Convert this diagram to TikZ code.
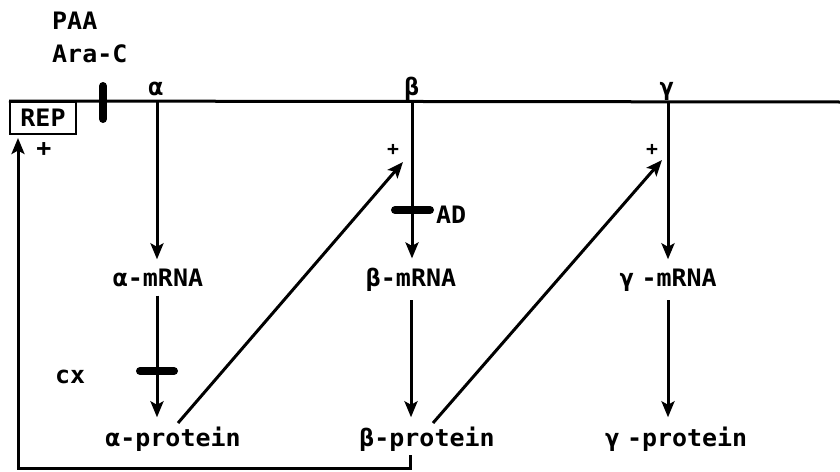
\documentclass[tikz,border=0pt]{standalone}
\usepackage{fontspec}
\usetikzlibrary{arrows.meta}
\newfontfamily\plotfont[FakeStretch=1.04]{DejaVu Sans Mono}
\begin{document}
\begin{tikzpicture}[x=1pt,y=-1pt,
  lbl/.style={font=\plotfont\bfseries\fontsize{24}{28}\selectfont, inner sep=0pt},
  plus/.style={font=\plotfont\bfseries\fontsize{19}{22}\selectfont, inner sep=0pt},
  prod/.style={lbl, inner xsep=0pt, inner ysep=9pt},
  repbox/.style={lbl, draw, line width=2pt, minimum width=66pt, minimum height=32pt},
  ln/.style={line width=3pt},
  arr/.style={line width=3pt, -{Stealth[length=16pt,width=13pt,inset=3.5pt]}},
  blocker/.style={line width=8pt, line cap=round}]
\useasboundingbox (0,0) rectangle (840,471);
\fill[white] (0,0) rectangle (840,471);

% labels top left
\node[lbl, anchor=base west] (paa) at (52,29) {PAA};
\node[lbl, anchor=base west] (arac) at (52,62) {Ara-C};

% REP box and main line
\node[repbox] (rep) at (43,118) {REP};
\coordinate (lend) at (840,102);
\draw[ln] (rep.north west) -- (lend);

% gene labels
\node[lbl, anchor=base] (ga) at (156,95) {α};
\node[lbl, anchor=base] (gb) at (412,95) {β};
\node[lbl, anchor=base] (gc) at (667,95) {γ};
\coordinate (ta) at (157,102);
\coordinate (tb) at (412,102);
\coordinate (tc) at (668,102);

% mRNA nodes
\node[prod, anchor=base] (am) at (158,286) {α-mRNA};
\node[prod, anchor=base] (bm) at (411,286) {β-mRNA};
\node[prod, anchor=base] (cm) at (668,286) {γ\hspace{0.3em}-mRNA};

% protein nodes
\node[prod, anchor=base] (ap) at (173,446) {α-protein};
\node[prod, anchor=base] (bp) at (427,446) {β-protein};
\node[prod, anchor=base] (cp) at (676,446) {γ\hspace{0.3em}-protein};

% transcription arrows
\draw[arr] (ta) -- (ta |- am.north);
\draw[arr] (tb) -- (tb |- bm.north);
\draw[arr] (tc) -- (tc |- cm.north);

% translation arrows
\draw[arr] (am.south -| ta) -- (ta |- ap.north);
\draw[arr] (bm.south) -- (bm.south |- bp.north);
\draw[arr] (cm.south -| tc) -- (tc |- cp.north);

% activation arrows
\coordinate (apout) at (178,423);
\coordinate (bin) at (403,162);
\coordinate (bpout) at (433,423);
\coordinate (cin) at (662,160);
\draw[arr] (apout) -- (bin);
\draw[arr] (bpout) -- (cin);
\node[plus] (pb) at (393,150) {+};
\node[plus] (pc) at (652,150) {+};

% feedback loop
\coordinate (fbstart) at (410,455);
\coordinate (fbcorner) at (18,468);
\coordinate (fbend) at (18,138);
\draw[arr] (fbstart) |- (fbcorner) -- (fbend);
\node[lbl] (prep) at (44,150) {+};

% blockers
\coordinate (b1t) at (103,86);
\coordinate (b1b) at (103,119);
\draw[blocker] (b1t) -- (b1b);
\coordinate (b2l) at (395,210);
\coordinate (b2r) at (430,210);
\draw[blocker] (b2l) -- (b2r);
\node[lbl, anchor=base west] (ad) at (436,223) {AD};
\coordinate (b3l) at (140,371);
\coordinate (b3r) at (174,371);
\draw[blocker] (b3l) -- (b3r);
\node[lbl, anchor=base west] (cx) at (55,383) {cx};
\end{tikzpicture}
\end{document}
